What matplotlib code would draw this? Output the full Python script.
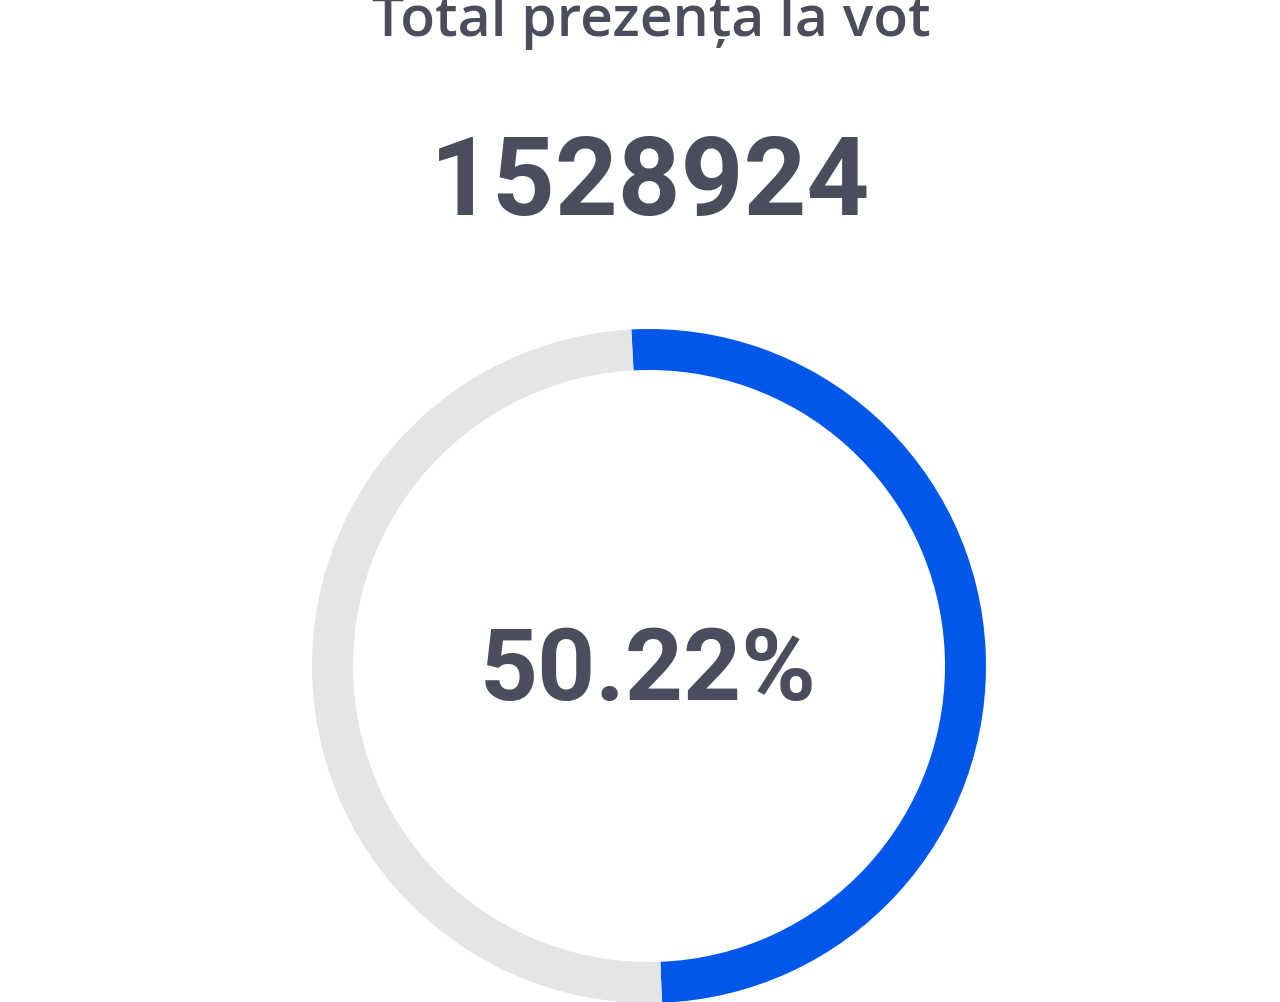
import matplotlib.pyplot as plt

title = "Total prezența la vot"
total_votes = 1528924
turnout_pct = 50.22
slices = [turnout_pct, 100 - turnout_pct]
colors = ['#0057e9', '#e4e5e7']
text_color = '#4b4c5c'

W, H = 1280, 1002
fig = plt.figure(figsize=(W / 100, H / 100), dpi=100)
fig.patch.set_facecolor('white')
ax = fig.add_axes([0, 0, 1, 1])

# donut, drawn in pixel-like data coords (y counted from the bottom)
cx, cy = 649, H - 666
ax.pie(slices, colors=colors, startangle=93, counterclock=False,
       radius=337, center=(cx, cy),
       wedgeprops=dict(width=41, linewidth=0, antialiased=True))
ax.set_xlim(0, W)
ax.set_ylim(0, H)
ax.set_aspect('equal')
ax.axis('off')

ax.text(651, H - 36, title, ha='center', va='baseline',
        fontsize=41, fontfamily='Open Sans', fontweight='semibold',
        color=text_color)
ax.text(650, H - 215, str(total_votes), ha='center', va='baseline',
        fontsize=79, fontfamily='Roboto', fontweight='bold',
        color=text_color)
ax.text(648, H - 700, f"{turnout_pct:.2f}%", ha='center', va='baseline',
        fontsize=73, fontfamily='Roboto', fontweight='bold',
        color=text_color)

fig.savefig('out.png', dpi=100, facecolor='white')
